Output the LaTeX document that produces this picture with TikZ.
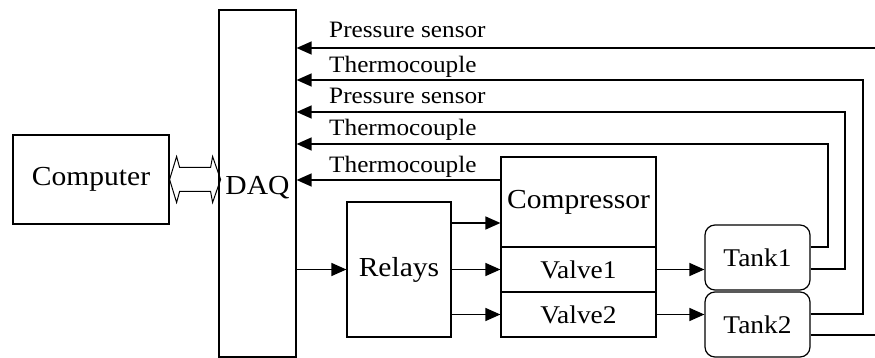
\documentclass[tikz,border=0pt]{standalone}
\usepackage{fontspec}
\setmainfont{Liberation Serif}
\usetikzlibrary{arrows.meta,calc}
\newcommand\myhs[1]{\scalebox{1.075}[1]{#1}}
\begin{document}
\begin{tikzpicture}[x=1pt,y=-1pt,
  blk/.style={draw, line width=1.2pt, inner sep=0pt},
  tank/.style={blk, rounded corners=10pt, minimum width=105pt, minimum height=65pt},
  big/.style={font=\fontsize{27.5}{30}\selectfont},
  mid/.style={font=\fontsize{25.5}{28}\selectfont},
  lbl/.style={font=\fontsize{23.5}{26}\selectfont, anchor=base west, inner sep=0pt},
  conn/.style={line width=1.4pt},
  arr/.style={conn, -{Triangle[length=15pt,width=13pt]}}]
\useasboundingbox (0,0) rectangle (875,358);
% blocks
\node[blk,big,minimum width=156pt,minimum height=89pt] (comp) at (91,179.5) {\myhs{Computer}};
\node[blk,minimum width=77pt,minimum height=347pt] (daq) at (257.5,183.5) {};
\node[big,inner sep=0pt] (daqlbl) at (257.5,188) {\myhs{DAQ}};
\node[blk,big,minimum width=104pt,minimum height=135pt] (relays) at (399,269.5) {\myhs{Relays}};
\node[blk,big,minimum width=155pt,minimum height=90pt] (compr) at (578.5,202) {\myhs{Compressor}};
\node[blk,mid,minimum width=155pt,minimum height=45pt] (valve1) at (578.5,269.5) {\myhs{Valve1}};
\node[blk,mid,minimum width=155pt,minimum height=45pt] (valve2) at (578.5,314.5) {\myhs{Valve2}};
\node[tank,mid] (tank1) at (757.5,257.5) {\myhs{Tank1}};
\node[tank,mid] (tank2) at (757.5,324.5) {\myhs{Tank2}};
% double arrow Computer <-> DAQ
\begin{scope}[shift={(comp.east)}]
\draw[line width=1pt] (0,0) -- (7,-23) -- (10,-12) -- (41,-12) -- (43,-23) -- (51,0)
  -- (43,23) -- (41,12) -- (10,12) -- (7,23) -- cycle;
\end{scope}
% sensor lines
\coordinate (r1) at (875,48);
\coordinate (c2) at (863,80);
\coordinate (c3) at (845,112);
\coordinate (c4) at (828,144);
\coordinate (k2) at ([yshift=10.5pt]tank2.east);
\coordinate (k3) at ([yshift=-11.5pt]tank1.east);
\coordinate (k4) at ([yshift=10.5pt]tank1.east);
\coordinate (k5) at ([yshift=22pt]compr.west);
\coordinate (k6) at ([yshift=-10.5pt]tank2.east);
\draw[arr] (r1) -- (r1 -| daq.east);
\draw[arr] (k2) -| (c2) -- (c2 -| daq.east);
\draw[arr] (k3) -| (c3) -- (c3 -| daq.east);
\draw[arr] (k4) -| (c4) -- (c4 -| daq.east);
\draw[arr] (k5) -- (k5 -| daq.east);
\draw[conn] (k6) -- (k6 -| r1);
% labels
\node[lbl] (l1) at (329,37.3) {\myhs{Pressure sensor}};
\node[lbl] (l2) at (329,72.7) {\myhs{Thermocouple}};
\node[lbl] (l3) at (329,103.3) {\myhs{Pressure sensor}};
\node[lbl] (l4) at (329,136) {\myhs{Thermocouple}};
\node[lbl] (l5) at (329,172.3) {\myhs{Thermocouple}};
% control lines
\coordinate (k7) at ([yshift=46.5pt]relays.east);
\coordinate (k8) at ([yshift=-45pt]relays.east);
\draw[arr] (relays.west -| daq.east) -- (relays.west);
\draw[arr] (k7) -- (k7 -| compr.west);
\draw[arr] (relays.east) -- (relays.east -| valve1.west);
\draw[arr] (k8) -- (k8 -| valve2.west);
\draw[arr] (valve1.east) -- (valve1.east -| tank1.west);
\draw[arr] (valve2.east) -- (valve2.east -| tank2.west);
\end{tikzpicture}
\end{document}
